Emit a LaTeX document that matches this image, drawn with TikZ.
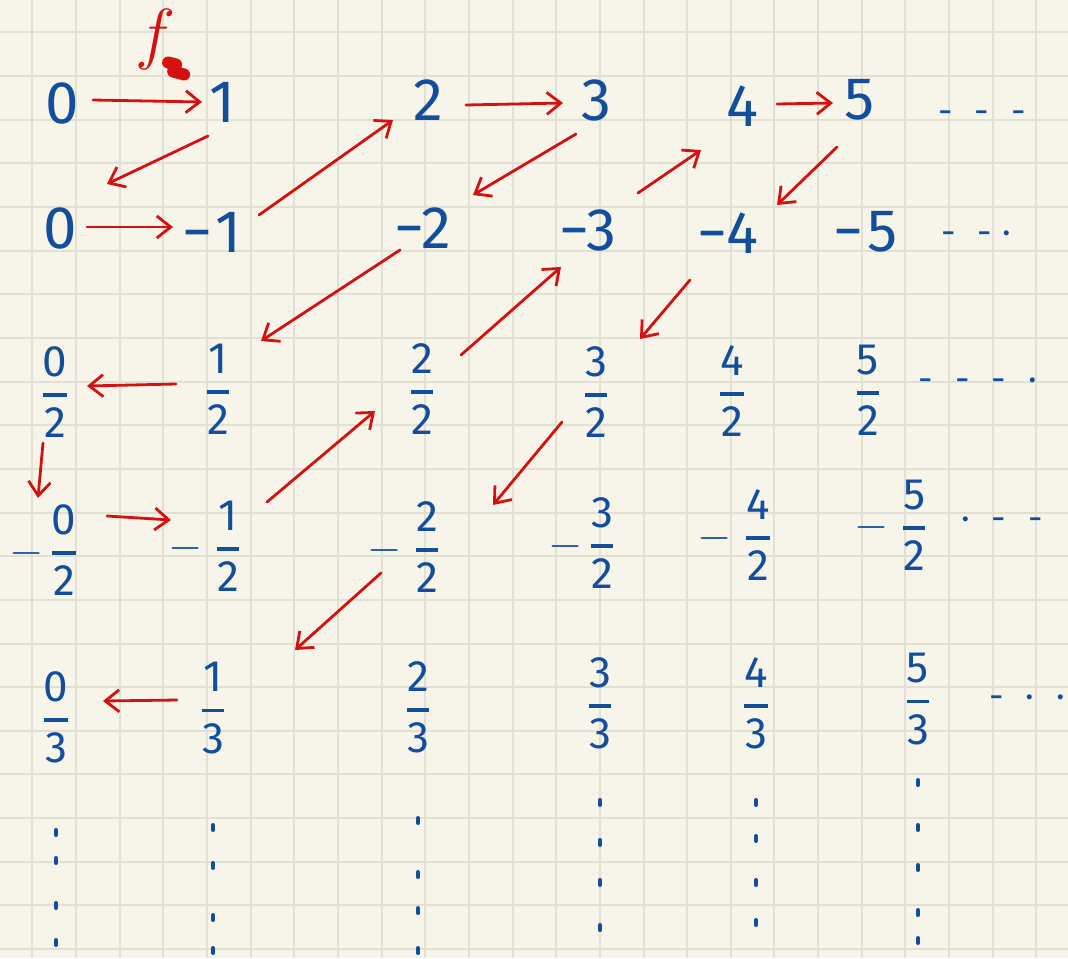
\RequirePackage{fix-cm}
\documentclass[tikz,border=0pt]{standalone}
\usepackage{amsmath}
\usepackage{fontspec}
\setmainfont{Fira Sans}
\usetikzlibrary{arrows.meta, positioning}
\definecolor{cPaper}{RGB}{247,245,233}
\definecolor{cGrid} {RGB}{226,224,211}
\definecolor{cInk}  {RGB}{ 18, 78,156}
\definecolor{cPen}  {RGB}{212, 16, 16}
\newcommand\fr[2]{$\genfrac{}{}{1.8pt}{0}{\text{#1}}{\text{#2}}$}
\newcommand\gp{\hspace{11pt}}
\tikzset{
  gridln/.style={draw=cGrid, line width=1pt},
  num/.style={text=cInk, inner sep=0pt, font=\fontsize{30}{30}\selectfont},
  frac/.style={text=cInk, inner sep=0pt, font=\fontsize{22}{22}\selectfont},
  more/.style={text=cInk, inner sep=0pt, font=\fontsize{18}{18}\selectfont},
  flab/.style={text=cPen, inner sep=0pt, font=\fontsize{34}{34}\selectfont},
  arr/.style={-{Straight Barb[length=7pt,width=11pt]}, draw=cPen,
              line width=1.4pt, line cap=round, line join=round},
  blob/.style={draw=cPen, line width=6pt, line cap=round, line join=round},
  tick/.style={draw=cInk, line width=2pt, line cap=round},
}

\begin{document}
\begin{tikzpicture}[x=0.5pt, y=-0.5pt]

%% -- squared paper -----------------------------------------------------------
\useasboundingbox (0,0) rectangle (1068,958);
\fill[cPaper] (0,0) rectangle (1068,958);
\foreach \k in {0,...,23}
  \draw[gridln] ({32.4+43.65*\k},0) -- ++(0,958);
\foreach \k in {0,...,21}
  \draw[gridln] (0,{32.4+43.65*\k}) -- ++(1068,0);

%% -- row 1: naturals ---------------------------------------------------------
\node[num] (z0) at ( 62,103) {0};
\node[num] (p1) at (222,102) {1};
\node[num] (p2) at (428,100) {2};
\node[num] (p3) at (596,100) {3};
\node[num] (p4) at (742,106) {4};
\node[num] (p5) at (860,100) {5};
\node[more] (r1) at (982,117) {-\gp-\gp-};

%% -- row 2: negatives --------------------------------------------------------
\node[num] (z0b) at ( 60,228) {0};
\node[num] (m1)  at (212,232) {−\kern2pt1};
\node[num] (m2)  at (423,228) {−2};
\node[num] (m3)  at (588,230) {−3};
\node[num] (m4)  at (728,233) {−4};
\node[num] (m5)  at (866,232) {−\kern2pt5};
\node[more] (r2) at (976,238) {-\gp-\hspace{5pt}·};

%% -- row 3: halves -----------------------------------------------------------
\node[frac] (h0) at ( 55,392) {\fr{0}{2}};
\node[frac] (h1) at (218,389) {\fr{1}{2}};
\node[frac] (h2) at (422,389) {\fr{2}{2}};
\node[frac] (h3) at (596,392) {\fr{3}{2}};
\node[frac] (h4) at (732,391) {\fr{4}{2}};
\node[frac] (h5) at (868,390) {\fr{5}{2}};
\node[more] (r3) at (978,385) {-\gp-\gp-\gp·};

%% -- row 4: negative halves --------------------------------------------------
\node[frac] (n0) at ( 44,550) {$-$\kern3pt\fr{0}{2}};
\node[frac] (n1) at (205,546) {$-$\kern6pt\fr{1}{2}};
\node[frac] (n2) at (404,547) {$-$\kern6pt\fr{2}{2}};
\node[frac] (n3) at (582,543) {$-$\kern3pt\fr{3}{2}};
\node[frac] (n4) at (735,535) {$-$\kern6pt\fr{4}{2}};
\node[frac] (n5) at (891,525) {$-$\kern6pt\fr{5}{2}};
\node[more] (r4) at (1002,524) {·\gp-\gp-};

%% -- row 5: thirds -----------------------------------------------------------
\node[frac] (t0) at ( 56,717) {\fr{0}{3}};
\node[frac] (t1) at (213,708) {\fr{1}{3}};
\node[frac] (t2) at (418,707) {\fr{2}{3}};
\node[frac] (t3) at (600,703) {\fr{3}{3}};
\node[frac] (t4) at (756,703) {\fr{4}{3}};
\node[frac] (t5) at (918,699) {\fr{5}{3}};
\node[more] (r5) at (1027,702) {-\gp·\gp·};

%% -- columns go on -----------------------------------------------------------
\foreach \col/\ys in {t0/{830,858,903,940}, t1/{825,863,915,948},
                      t2/{818,872,908,948}, t3/{800,840,880,925},
                      t4/{800,836,880,920}, t5/{780,825,865,910,938}}
  \foreach \y in \ys
    \draw[tick] (\col.center |- 0,\y) -- ++(0,5);

%% -- the zig-zag enumeration -------------------------------------------------
\draw[arr] ([shift={(31,-3)}]z0.center) --
  node[flab, pos=0.57, above=15pt] (flab) {$f$} ([shift={(-20,0)}]p1.center);
\draw[blob] ([shift={(13,23)}]flab.center) -- ++(8,2) -- ++(-3,7) -- ++(11,3);

\draw[arr] ([shift={(-14,34)}]p1.center)  -- ([shift={(47,-44)}]z0b.center);
\draw[arr] ([shift={(27,-1)}]z0b.center)  -- ([shift={(-39,-5)}]m1.center);
\draw[arr] ([shift={(47,-17)}]m1.center)  -- ([shift={(-35,20)}]p2.center);
\draw[arr] ([shift={(38,5)}]p2.center)    -- ([shift={(-33,3)}]p3.center);
\draw[arr] ([shift={(-20,34)}]p3.center)  -- ([shift={(50,-33)}]m2.center);
\draw[arr] ([shift={(-23,22)}]m2.center)  -- ([shift={(43,-48)}]h1.center);
\draw[arr] ([shift={(-42,-5)}]h1.center)  -- ([shift={(32,-6)}]h0.center);
\draw[arr] ([shift={(-12,51)}]h0.center)  -- ([shift={(-6,-52)}]n0.center);
\draw[arr] ([shift={(63,-34)}]n0.center)  -- ([shift={(-34,-26)}]n1.center);
\draw[arr] ([shift={(62,-44)}]n1.center)  -- ([shift={(-47,22)}]h2.center);
\draw[arr] ([shift={(39,-34)}]h2.center)  -- ([shift={(-27,37)}]m3.center);
\draw[arr] ([shift={(50,-37)}]m3.center)  -- ([shift={(-41,44)}]p4.center);
\draw[arr] ([shift={(35,-2)}]p4.center)   -- ([shift={(-27,3)}]p5.center);
\draw[arr] ([shift={(-23,47)}]p5.center)  -- ([shift={(49,-28)}]m4.center);
\draw[arr] ([shift={(-38,47)}]m4.center)  -- ([shift={(44,-53)}]h3.center);
\draw[arr] ([shift={(-34,30)}]h3.center)  -- ([shift={(89,-42)}]n2.center);
\draw[arr] ([shift={(-23,26)}]n2.center)  -- ([shift={(82,-58)}]t1.center);
\draw[arr] ([shift={(-36,-8)}]t1.center)  -- ([shift={(47,-16)}]t0.center);

\end{tikzpicture}
\end{document}
